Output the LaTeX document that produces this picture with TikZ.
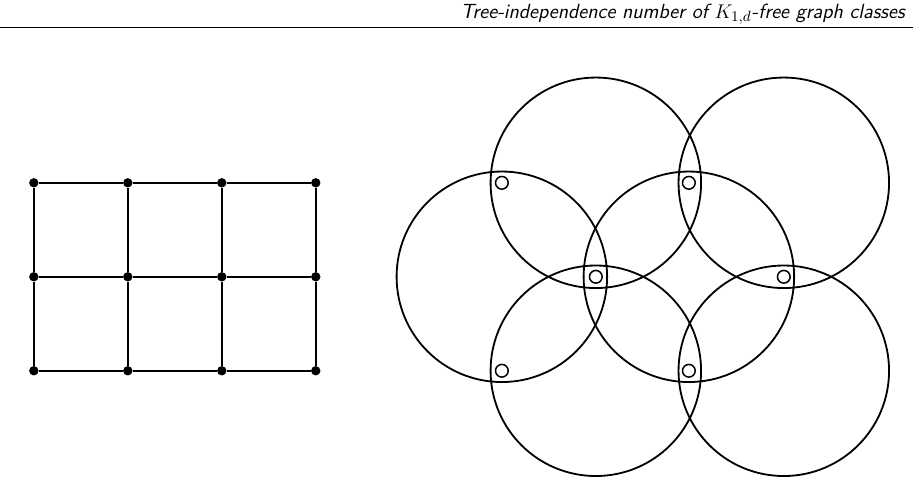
\documentclass[tikz,border=0pt]{standalone}
\usepackage{tikz}
\usepackage{amsmath}
\usetikzlibrary{positioning,calc}

\tikzset{
  vtx/.style={circle,fill=black,inner sep=0pt,minimum size=0.2cm},
  disco/.style={circle,draw,line width=1.1pt,inner sep=0pt,minimum size=4.48cm},
  furo/.style={circle,draw,line width=0.9pt,inner sep=0pt,minimum size=0.27cm},
  aresta/.style={line width=1.1pt}
}

\begin{document}
\begin{tikzpicture}

    \useasboundingbox (0,0) rectangle (19.6,-10.32);

    % Cabecalho
    \node[anchor=base east,inner sep=0pt,font=\sffamily\itshape\fontsize{12.4}{14}\selectfont]
      (titulo) at (19.26,-0.39) {Tree-independence number of $K_{1,d}$-free graph classes};
    \coordinate (regraA) at (0,-0.574);
    \coordinate (regraB) at (19.43,-0.574);
    \draw[line width=0.45pt] (regraA) -- (regraB);

    % Grade 4x3
    \foreach \i in {0,...,3}{
      \foreach \j in {0,...,2}{
        \node[vtx] (g\i\j) at (0.72+2*\i,-3.89-2*\j) {};
      }
    }
    \foreach \i in {0,...,3}{
      \draw[aresta] (g\i0) -- (g\i1) -- (g\i2);
    }
    \foreach \j in {0,...,2}{
      \draw[aresta] (g0\j) -- (g1\j) -- (g2\j) -- (g3\j);
    }

    % Discos
    \foreach \n/\x/\y in {1/12.68/-3.89, 2/16.68/-3.89, 3/10.68/-5.89,
                          4/14.66/-5.89, 5/12.68/-7.89, 6/16.68/-7.89}{
      \node[disco] (d\n) at (\x,\y) {};
    }

    % Furos
    \foreach \n/\x/\y in {1/10.68/-3.89, 2/14.66/-3.89, 3/12.68/-5.89,
                          4/16.68/-5.89, 5/10.68/-7.89, 6/14.66/-7.89}{
      \node[furo] (f\n) at (\x,\y) {};
    }

\end{tikzpicture}
\end{document}
